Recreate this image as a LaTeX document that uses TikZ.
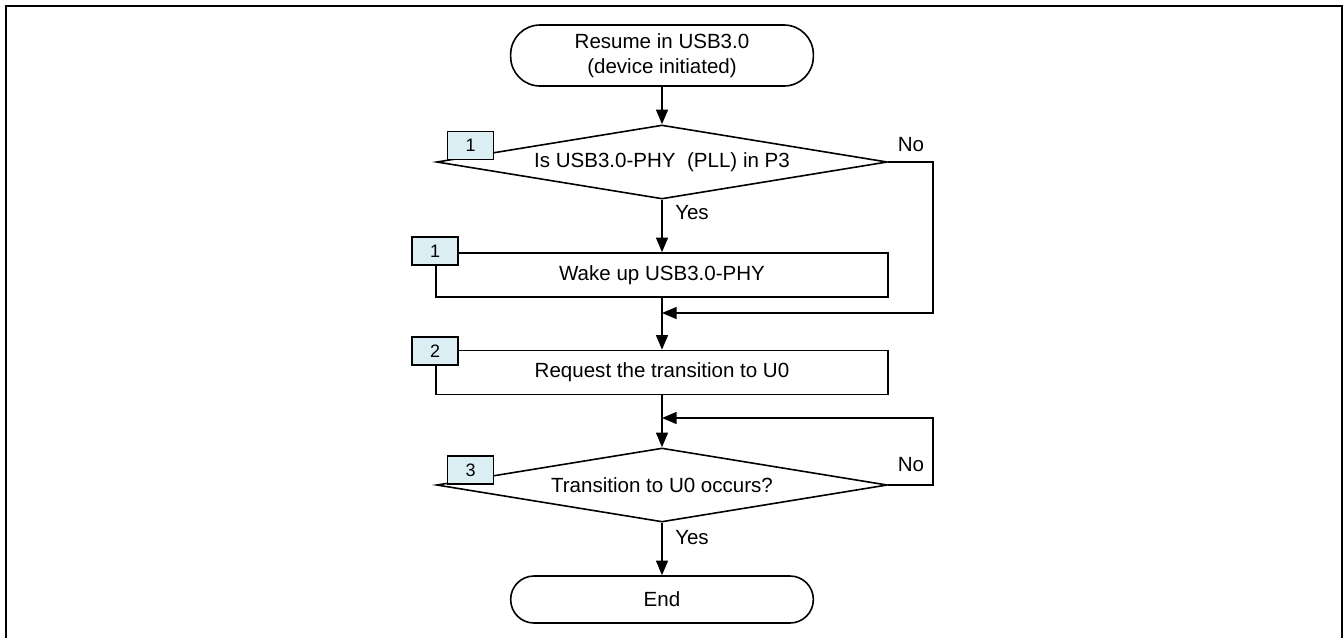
\documentclass[tikz,border=0pt]{standalone}
\usepackage{fontspec}
\setmainfont{Liberation Sans}
\usetikzlibrary{shapes.geometric,arrows.meta}
\definecolor{tagblue}{RGB}{218,238,243}
\newcommand{\mainsize}{\fontsize{15.4pt}{18.75pt}\selectfont}
\newcommand{\tagsize}{\fontsize{13.5pt}{15pt}\selectfont}
\tikzset{
  terminal/.style={draw=black, line width=1.2pt, minimum width=227pt, align=center, font=\mainsize},
  decision/.style={diamond, draw=black, line width=1.2pt, aspect=6, inner sep=0pt, minimum width=338pt, minimum height=55.5pt, font=\mainsize},
  process/.style={draw=black, line width=1.2pt, minimum width=339pt, minimum height=33pt, font=\mainsize},
  steptag/.style={draw=black, line width=1.2pt, fill=tagblue, minimum width=34.5pt, minimum height=21pt, inner sep=0pt, font=\tagsize},
  flow/.style={line width=1.2pt, -{Triangle[length=11pt,width=9pt]}},
  branch/.style={font=\mainsize},
  frame/.style={line width=2.2pt, line join=miter},
}

\begin{document}
\begin{tikzpicture}[x=0.75pt, y=-0.75pt]
\useasboundingbox (0,0) rectangle (1344,637);
\draw[frame] (6,645) -- (6,6) -- (1342,6) -- (1342,645);
\node[terminal, minimum height=45.75pt, rounded corners=22pt] (start) at (662,55.5) {Resume in USB3.0\\(device initiated)};
\node[decision] (isp3) at (662,162) {Is USB3.0-PHY\ \ (PLL) in P3};
\node[process] (wake) at (662,275) {Wake up USB3.0-PHY};
\node[process] (request) at (662,372.5) {Request the transition to U0};
\node[decision] (u0check) at (662,485) {Transition to U0 occurs?};
\node[terminal, minimum height=35.25pt, rounded corners=17.5pt] (finish) at (662,599.5) {End};
\coordinate (join1) at (662,313);
\coordinate (noright1) at (933,313);
\coordinate (join2) at (662,418);
\coordinate (noright2) at (933,418);
\draw[flow] (start) -- (isp3);
\draw[flow] (isp3) -- node[branch, pos=0.25, anchor=west, xshift=6pt] (yes1) {Yes} (wake);
\draw[flow] (isp3.east) -| (noright1) -- (join1);
\draw[flow] (wake) -- (request);
\draw[flow] (request) -- (u0check);
\draw[flow] (u0check.east) -| (noright2) -- (join2);
\draw[flow] (u0check) -- node[branch, pos=0.28, anchor=west, xshift=6pt] (yes2) {Yes} (finish);
\node[branch] (no1) at (911,145) {No};
\node[branch] (no2) at (911,465) {No};
\node[steptag] (tag1) at (470.5,145.5) {1};
\node[steptag] (tag2) at (435,251) {1};
\node[steptag] (tag3) at (435,351) {2};
\node[steptag] (tag4) at (470.5,470) {3};
\end{tikzpicture}
\end{document}
